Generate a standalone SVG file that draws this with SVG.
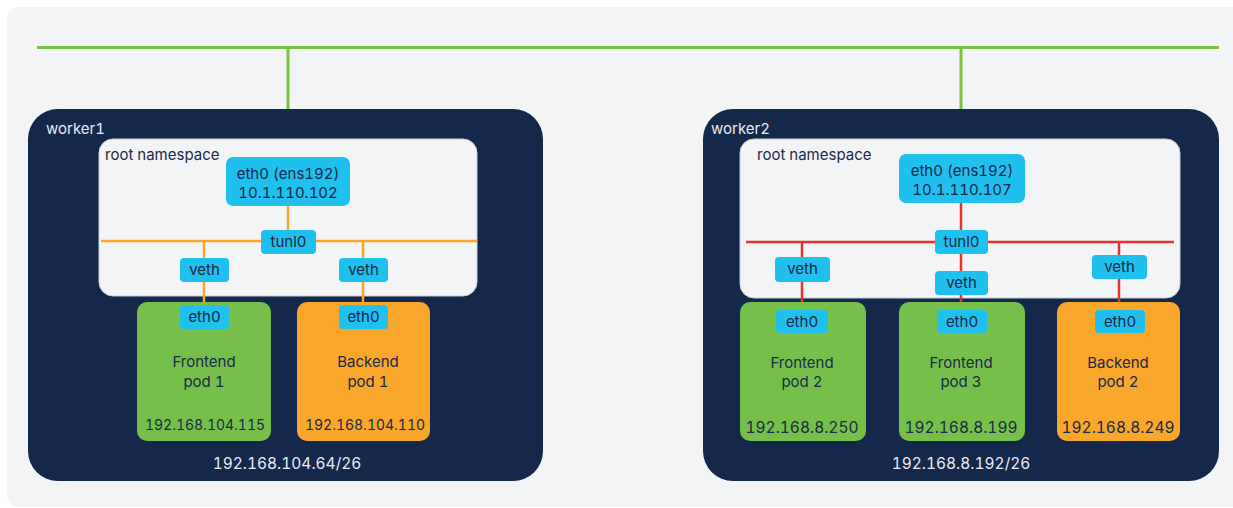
<svg xmlns="http://www.w3.org/2000/svg" width="1233" height="508" viewBox="0 0 1233 508">
<style>
.bg{fill:#f3f4f5}
.worker{fill:#14284b}
.ns{fill:#f3f4f6;stroke:#c9ced8;stroke-width:1}
.if{fill:#1fbfee}
.fe{fill:#77bf4b}
.be{fill:#f9a72b}
text{font-family:Inter,"Liberation Sans",sans-serif;font-size:15px;font-variant-numeric:tabular-nums}
.dk{fill:#1b2a48}
.lt{fill:#e8eaf0}
.mid{text-anchor:middle}
.ip{font-size:15.5px}
.ipsm{font-size:14px}
.green{stroke:#7ac143;stroke-width:3;fill:none}
.orange{stroke:#f9a52a;stroke-width:2.5;fill:none}
.red{stroke:#e8312f;stroke-width:2.5;fill:none}
</style>
<rect class="bg" x="7" y="7" width="1240" height="500" rx="12"/>

<g id="worker1">
<rect class="worker" x="28" y="109" width="515" height="372" rx="30"/>
<text class="lt" x="46" y="134">worker1</text>
<text class="lt mid ip" x="287" y="469">192.168.104.64/26</text>
</g>
<g id="worker2">
<rect class="worker" x="703" y="109" width="516" height="372" rx="30"/>
<text class="lt" x="711" y="134">worker2</text>
<text class="lt mid ip" x="961" y="469">192.168.8.192/26</text>
</g>
<g id="ns1">
<rect class="ns" x="99" y="139" width="378" height="157" rx="14"/>
<text class="dk" x="105" y="160">root namespace</text>
</g>
<g id="ns2">
<rect class="ns" x="740" y="139" width="440" height="159" rx="14"/>
<text class="dk" x="757" y="160">root namespace</text>
</g>

<g id="connectors">
<path class="green" d="M37 47.5H1219M288 47.5V109M961 47.5V109"/>
<path class="orange" d="M288 206V241M101 241H477M204 241V305M363 241V305"/>
<path class="red" d="M961 203V310M746 242H1174M802 242V310M1119 242V310"/>
</g>

<g id="fe1"><rect class="fe" x="137" y="302" width="134" height="139" rx="10"/>
<text class="dk mid" x="204" y="367">Frontend</text><text class="dk mid" x="204" y="387">pod 1</text>
<text class="dk mid ipsm" x="205" y="430">192.168.104.115</text></g>
<g id="be1"><rect class="be" x="297" y="302" width="133" height="139" rx="10"/>
<text class="dk mid" x="368" y="367">Backend</text><text class="dk mid" x="368" y="387">pod 1</text>
<text class="dk mid ipsm" x="365" y="430">192.168.104.110</text></g>
<g id="fe2"><rect class="fe" x="740" y="302" width="126" height="139" rx="10"/>
<text class="dk mid" x="802" y="368">Frontend</text><text class="dk mid" x="802" y="387">pod 2</text>
<text class="dk mid ip" x="802" y="433">192.168.8.250</text></g>
<g id="fe3"><rect class="fe" x="899" y="302" width="126" height="139" rx="10"/>
<text class="dk mid" x="961" y="368">Frontend</text><text class="dk mid" x="961" y="387">pod 3</text>
<text class="dk mid ip" x="961" y="433">192.168.8.199</text></g>
<g id="be2"><rect class="be" x="1057" y="302" width="123" height="139" rx="10"/>
<text class="dk mid" x="1118" y="368">Backend</text><text class="dk mid" x="1118" y="387">pod 2</text>
<text class="dk mid ip" x="1118" y="433">192.168.8.249</text></g>

<g id="eth-w1"><rect class="if" x="226" y="157" width="124" height="49" rx="7"/>
<text class="dk mid" x="288" y="179">eth0 (ens192)</text><text class="dk mid" x="288" y="198">10.1.110.102</text></g>
<g id="tunl-w1"><rect class="if" x="261" y="230" width="55" height="24" rx="4"/>
<text class="dk mid" x="288.5" y="247">tunl0</text></g>
<g id="veth-w1a"><rect class="if" x="180" y="258" width="49" height="24" rx="4"/>
<text class="dk mid" x="204.5" y="275">veth</text></g>
<g id="veth-w1b"><rect class="if" x="339" y="258" width="49" height="24" rx="4"/>
<text class="dk mid" x="363.5" y="275">veth</text></g>
<g id="eth-fe1"><rect class="if" x="180" y="305" width="49" height="24" rx="4"/>
<text class="dk mid" x="204.5" y="322">eth0</text></g>
<g id="eth-be1"><rect class="if" x="339" y="305" width="49" height="24" rx="4"/>
<text class="dk mid" x="363.5" y="322">eth0</text></g>

<g id="eth-w2"><rect class="if" x="899" y="154" width="126" height="49" rx="7"/>
<text class="dk mid" x="962" y="176">eth0 (ens192)</text><text class="dk mid" x="962" y="195">10.1.110.107</text></g>
<g id="tunl-w2"><rect class="if" x="935" y="230" width="53" height="24" rx="4"/>
<text class="dk mid" x="961.5" y="247">tunl0</text></g>
<g id="veth-w2a"><rect class="if" x="775" y="257" width="55" height="25" rx="4"/>
<text class="dk mid" x="802.5" y="274">veth</text></g>
<g id="veth-w2b"><rect class="if" x="935" y="271" width="53" height="24" rx="4"/>
<text class="dk mid" x="961.5" y="288">veth</text></g>
<g id="veth-w2c"><rect class="if" x="1092" y="255" width="55" height="24" rx="4"/>
<text class="dk mid" x="1119.5" y="272">veth</text></g>
<g id="eth-fe2"><rect class="if" x="776" y="310" width="52" height="23" rx="4"/>
<text class="dk mid" x="802" y="327">eth0</text></g>
<g id="eth-fe3"><rect class="if" x="937" y="310" width="50" height="23" rx="4"/>
<text class="dk mid" x="962" y="327">eth0</text></g>
<g id="eth-be2"><rect class="if" x="1095" y="310" width="50" height="23" rx="4"/>
<text class="dk mid" x="1120" y="327">eth0</text></g>
</svg>
